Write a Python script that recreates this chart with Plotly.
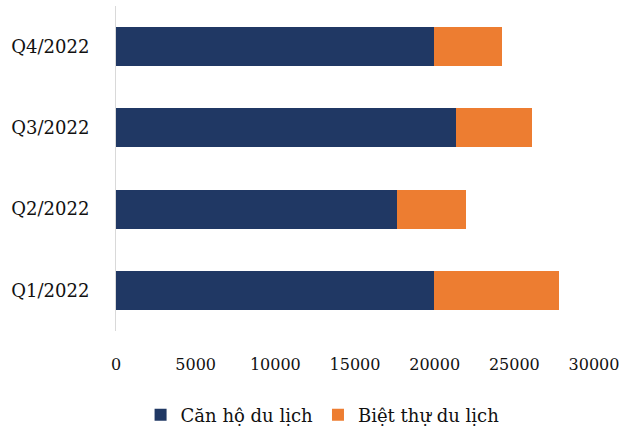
import plotly.graph_objects as go

quarters = ["Q1/2022", "Q2/2022", "Q3/2022", "Q4/2022"]
can_ho = [19960, 17620, 21340, 19930]
biet_thu = [7870, 4330, 4790, 4300]
x_ticks = [0, 5000, 10000, 15000, 20000, 25000, 30000]

NAVY = "#203864"
ORANGE = "#ED7D31"
FONT = "DejaVu Serif"

fig = go.Figure()
fig.add_trace(go.Bar(
    name="Căn hộ du lịch", y=quarters, x=can_ho, orientation="h",
    marker=dict(color=NAVY, line=dict(width=0)),
))
fig.add_trace(go.Bar(
    name="Biệt thự du lịch", y=quarters, x=biet_thu, orientation="h",
    marker=dict(color=ORANGE, line=dict(width=0)),
))

fig.update_layout(
    barmode="stack",
    bargap=0.52,
    width=635,
    height=428,
    paper_bgcolor="white",
    plot_bgcolor="white",
    font=dict(family=FONT, size=17, color="#111111"),
    margin=dict(l=116, r=41, t=6, b=97),
    showlegend=True,
    legend=dict(
        orientation="h", xref="container", yref="container",
        x=0.508, xanchor="center", y=0.03, yanchor="middle",
        font=dict(size=18), itemwidth=30, traceorder="normal",
    ),
)
fig.update_xaxes(
    range=[0, 30000], tickvals=x_ticks, ticktext=[str(v) for v in x_ticks],
    showgrid=False, zeroline=False, showline=False, automargin=False,
    ticks="outside", ticklen=0, ticklabelstandoff=19, tickfont=dict(size=16),
)
fig.update_yaxes(
    showgrid=False, zeroline=False, showline=True, linecolor="#d9d9d9", linewidth=1,
    automargin=False,
    ticks="outside", ticklen=0, ticklabelstandoff=22, tickfont=dict(size=18),
)

# the page's default body margin would shift the whole figure by 8px
fig.write_html(
    "out.html",
    config={"displayModeBar": False},
    post_script="document.body.style.margin = '0';",
)
